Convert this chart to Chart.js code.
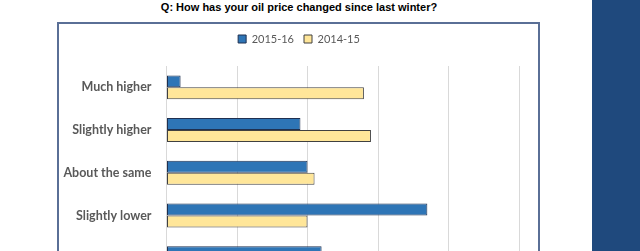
<!DOCTYPE html>
<html>
<head>
<meta charset="utf-8">
<script src="https://cdn.jsdelivr.net/npm/chart.js@4"></script>
<style>
  html, body { margin: 0; padding: 0; background: #fff; overflow: hidden; width: 640px; height: 251px; }
  #title { position: absolute; left: 99px; width: 400px; top: 1px; text-align: center;
           font: bold 11px "Liberation Sans", Arial, sans-serif; color: #000; }
  #box { position: absolute; left: 57px; top: 22px; width: 479px; height: 276px;
         border: 2px solid #5a6f96; border-bottom: none; }
  #panel { position: absolute; left: 592px; top: 0; width: 48px; height: 251px; background: #1f497d; }
</style>
</head>
<body>
<div id="title">Q: How has your oil price changed since last winter?</div>
<div id="box"><canvas id="oilChart"></canvas></div>
<div id="panel"></div>
<script>
const categories = ['Much higher', 'Slightly higher', 'About the same', 'Slightly lower', 'Much lower'];
const values2015 = [2, 19, 20, 37, 22];
const values2014 = [28, 29, 21, 20, 8];
const axisTicks = [0, 10, 20, 30, 40, 50];

// legend sits closer to the top border (and a bit right) compared to default layout
const legendShift = {
  id: 'legendShift',
  afterLayout(chart) {
    const lg = chart.legend;
    lg.top -= 11.5; lg.bottom -= 11.5;
    lg.left += 10; lg.right += 10;
  }
};

const ctx = document.getElementById('oilChart').getContext('2d');
new Chart(ctx, {
  type: 'bar',
  data: {
    labels: categories,
    datasets: [
      { label: '2015-16', data: values2015, backgroundColor: '#2e75b6', borderColor: '#1f3050', borderWidth: 1, borderSkipped: false },
      { label: '2014-15', data: values2014, backgroundColor: '#ffe699', borderColor: '#404040', borderWidth: 1, borderSkipped: false }
    ]
  },
  options: {
    indexAxis: 'y',
    responsive: true,
    maintainAspectRatio: false,
    animation: false,
    categoryPercentage: 0.56,
    barPercentage: 1,
    layout: { padding: { top: 11, right: 19, left: 0, bottom: 0 } },
    plugins: {
      legend: {
        position: 'top',
        labels: {
          boxWidth: 8, boxHeight: 8, padding: 10,
          color: '#595959',
          font: { family: 'Lato, "Open Sans", sans-serif', size: 11 }
        }
      },
      tooltip: { enabled: false }
    },
    scales: {
      x: {
        min: axisTicks[0],
        max: axisTicks[axisTicks.length - 1],
        ticks: { stepSize: 10, color: '#595959', callback: v => v + '%' },
        grid: { color: '#d9d9d9', drawTicks: false },
        border: { display: false }
      },
      y: {
        afterFit: axis => { axis.width = 107.5; },
        ticks: {
          padding: 7,
          color: '#595959',
          font: { family: 'Lato, "Open Sans", sans-serif', size: 12.5, weight: 'bold' }
        },
        grid: { display: false },
        border: { color: '#d9d9d9' }
      }
    }
  },
  plugins: [legendShift]
});
</script>
</body>
</html>
